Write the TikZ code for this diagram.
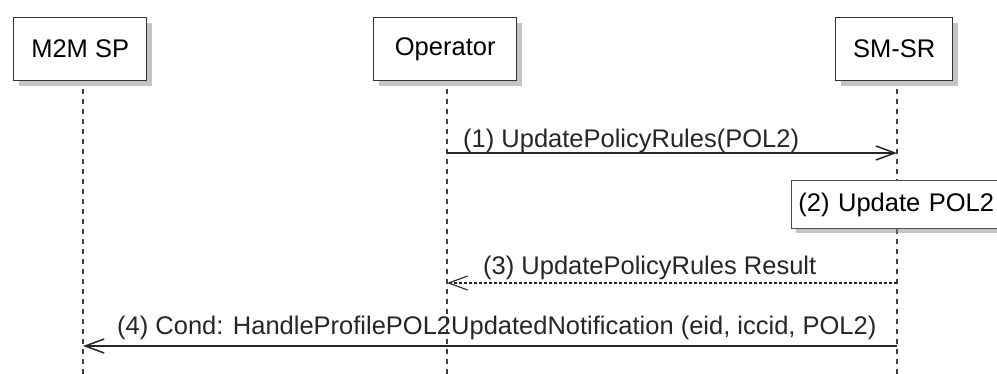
\documentclass[tikz,border=0pt]{standalone}
\usepackage{fontspec}
\setmainfont{Liberation Sans}
\usetikzlibrary{arrows.meta,shadows}

\begin{document}
\begin{tikzpicture}[x=1pt, y=-1pt, >={Straight Barb[length=19pt,width=14pt]},
  font=\fontsize{25.5}{30}\selectfont,
  actor/.style={draw=black!80, line width=1.4pt, fill=white, anchor=north west,
    minimum height=63pt, inner sep=0pt,
    drop shadow={shadow xshift=5pt, shadow yshift=-5pt, fill=black!45}},
  lifeline/.style={black!75, line width=1.1pt, dash pattern=on 5pt off 5pt},
  msg/.style={black!85, line width=1.5pt},
  reply/.style={black!85, line width=1.1pt, dash pattern=on 3pt off 2pt},
  label/.style={anchor=base west, inner sep=0pt, text=black!85}]
  \useasboundingbox (0,0) rectangle (997,374);

  % Participants
  \node[actor, minimum width=133pt] (m2m) at (13,17) {M2M SP};
  \node[actor, minimum width=143pt] (op) at (373,17) {Operator};
  \node[actor, minimum width=117pt] (smsr) at (835,17) {SM-SR};

  % Lifelines
  \coordinate (m2mEnd) at (83,374);
  \coordinate (opEnd) at (447,374);
  \coordinate (smsrEnd) at (897,374);
  \draw[lifeline] (m2m.south -| m2mEnd) ++(0,8) -- (m2mEnd);
  \draw[lifeline] (op.south -| opEnd) ++(0,8) -- (opEnd);
  \draw[lifeline] (smsr.south -| smsrEnd) ++(0,8) -- (smsrEnd);

  % (1) request
  \coordinate (op1) at (447,153);
  \coordinate (sr1) at (897,153);
  \draw[msg, ->] (op1) -- (sr1);
  \node[label] (l1) at ([shift={(16,-5)}]op1) {(1) UpdatePolicyRules(POL2)};

  % (2) note
  \node[draw=black!70, line width=0.9pt, fill=white, anchor=north west,
    minimum width=212pt, minimum height=48pt, inner xsep=7pt, text width=198pt,
    drop shadow={shadow xshift=5pt, shadow yshift=-5pt, fill=black!45}]
    (upd) at (791,180) {(2) Update POL2};

  % (3) result
  \coordinate (sr3) at (897,283);
  \coordinate (op3) at (447,283);
  \draw[reply, ->] (sr3) -- (op3);
  \node[label] (l3) at ([shift={(36,-8)}]op3) {(3) UpdatePolicyRules Result};

  % (4) notification
  \coordinate (sr4) at (897,346);
  \coordinate (m2m4) at (83,346);
  \draw[msg, ->] (sr4) -- (m2m4);
  \node[label] (l4) at ([shift={(34,-11)}]m2m4) {(4) Cond: HandleProfilePOL2UpdatedNotification (eid, iccid, POL2)};
\end{tikzpicture}
\end{document}
